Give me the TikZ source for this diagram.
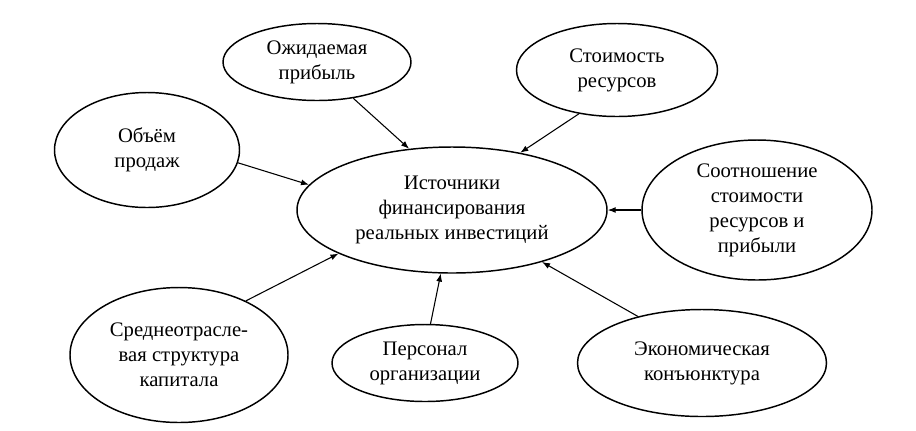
\documentclass[tikz,border=0pt]{standalone}
\usepackage{fontspec}
\setmainfont{Liberation Serif}
\usetikzlibrary{shapes.geometric,arrows.meta}
\tikzset{
  oval/.style={ellipse, draw, line width=1.1pt, inner sep=0pt, align=center,
    font=\rmfamily\fontsize{15.5pt}{18.75pt}\selectfont},
  feed/.style={draw, line width=0.8pt, -{Latex[length=6pt,width=4.5pt]}}
}
\begin{document}
\begin{tikzpicture}[x=0.75pt,y=-0.75pt]
\useasboundingbox (0,0) rectangle (916,430);
\node[oval, minimum width=232.5pt, minimum height=94.5pt] (src) at (452,210)
  {Источники\\финансирования\\реальных инвестиций};
\node[oval, minimum width=141pt, minimum height=57.75pt] (exp) at (317,62)
  {Ожидаемая\\прибыль};
\node[oval, minimum width=150.75pt, minimum height=69.75pt] (cost) at (617,70)
  {Стоимость\\ресурсов};
\node[oval, minimum width=138.75pt, minimum height=86.25pt] (sales) at (147,150)
  {Объём\\продаж};
\node[oval, minimum width=172.5pt, minimum height=105pt] (ratio) at (757,210)
  {Соотношение\\стоимости\\ресурсов и\\прибыли};
\node[oval, minimum width=163.5pt, minimum height=101.25pt] (avg) at (179,355)
  {Среднеотрасле-\\вая структура\\капитала};
\node[oval, minimum width=139.5pt, minimum height=57.75pt] (pers) at (425,363)
  {Персонал\\организации};
\node[oval, minimum width=186.75pt, minimum height=80.25pt] (econ) at (702,363)
  {Экономическая\\конъюнктура};
\draw[feed] (exp.-45) -- (src.125);
\draw[feed] (cost.-131) -- (src.40);
\draw[feed] (sales.-8) -- (src.170);
\draw[feed] (ratio.west) -- (src.east);
\draw[feed] (avg.39) -- (src.-159);
\draw[feed] (pers.82) -- (src.-100);
\draw[feed] (econ.144) -- (src.-30);
\end{tikzpicture}
\end{document}
